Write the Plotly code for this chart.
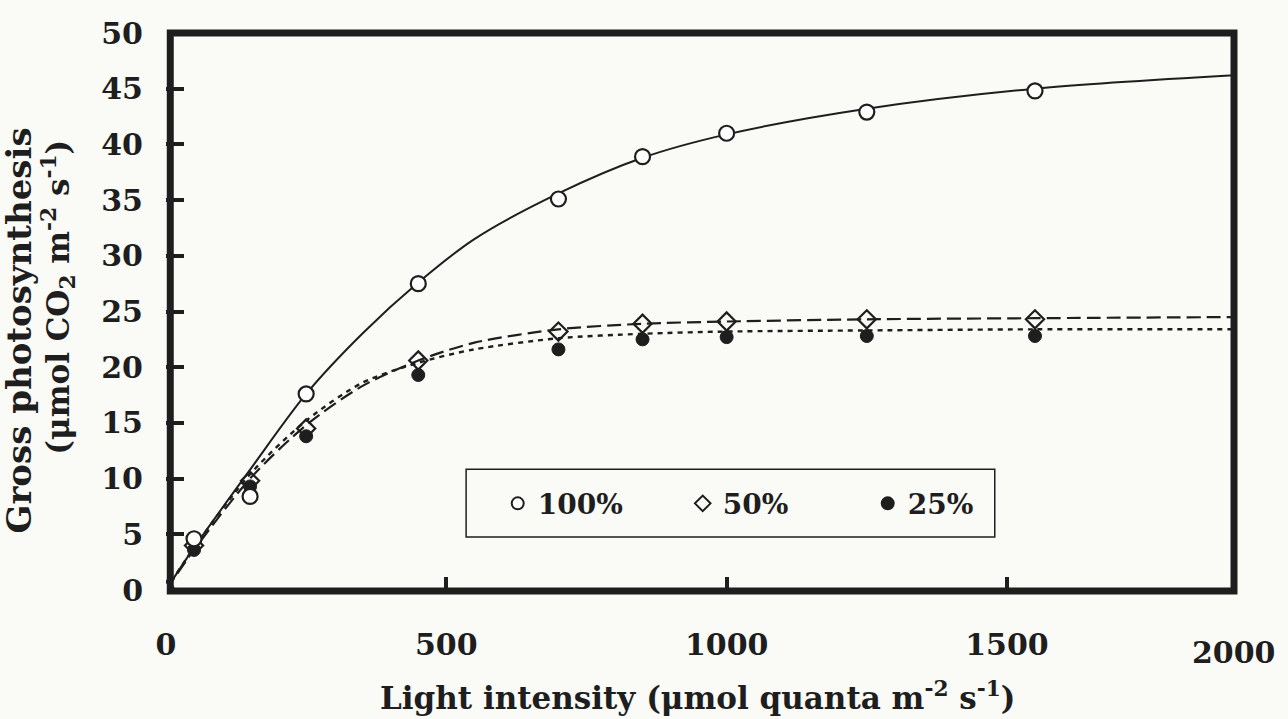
import plotly.graph_objects as go

# ---- data ----
light = [0, 50, 150, 250, 450, 700, 850, 1000, 1250, 1550]
gp_100 = [0, 4.6, 8.4, 17.6, 27.5, 35.1, 38.9, 41.0, 42.9, 44.8]
gp_50 = [0, 4.0, 9.8, 14.5, 20.6, 23.2, 23.9, 24.1, 24.3, 24.3]
gp_25 = [0, 3.6, 9.3, 13.8, 19.3, 21.6, 22.5, 22.7, 22.8, 22.8]

# fitted response curves
curve_x = [0, 50, 150, 250, 350, 450, 550, 700, 850, 1000, 1250, 1550, 1905]
fit_100 = [0, 3.8, 10.8, 17.6, 23.0, 27.6, 31.5, 35.6, 38.8, 40.9, 43.2, 45.0, 46.2]
fit_50 = [0, 3.6, 10.0, 14.8, 18.3, 20.6, 22.2, 23.4, 23.9, 24.1, 24.3, 24.4, 24.5]
fit_25 = [0, 3.8, 10.4, 15.2, 18.6, 20.4, 21.6, 22.6, 23.0, 23.2, 23.3, 23.4, 23.4]

series_names = ["100%", "50%", "25%"]
x_ticks = [0, 500, 1000, 1500]
x_tick_text = ["0", "500", "1000", "1500"]
x_end_label = "2000"
y_ticks = [0, 5, 10, 15, 20, 25, 30, 35, 40, 45, 50]

INK = "#1e1e1e"
BG = "#fafaf6"
FONT = "DejaVu Serif"

fig = go.Figure()

# curves
fig.add_trace(go.Scatter(x=curve_x, y=fit_100, mode="lines", showlegend=False,
                         line=dict(color=INK, width=2, shape="spline", smoothing=0.9),
                         hoverinfo="skip"))
fig.add_trace(go.Scatter(x=curve_x, y=fit_50, mode="lines", showlegend=False,
                         line=dict(color=INK, width=2.2, dash="14px,6px", shape="spline", smoothing=0.8),
                         hoverinfo="skip"))
fig.add_trace(go.Scatter(x=curve_x, y=fit_25, mode="lines", showlegend=False,
                         line=dict(color=INK, width=2.4, dash="5px,5px", shape="spline", smoothing=0.8),
                         hoverinfo="skip"))

# points
fig.add_trace(go.Scatter(x=light, y=gp_25, mode="markers", name=series_names[2],
                         marker=dict(symbol="circle", size=13, color=INK,
                                     line=dict(color=INK, width=1))))
fig.add_trace(go.Scatter(x=light, y=gp_50, mode="markers", name=series_names[1],
                         marker=dict(symbol="diamond-open", size=14, color=INK,
                                     line=dict(color=INK, width=2.2))))
fig.add_trace(go.Scatter(x=light, y=gp_100, mode="markers", name=series_names[0],
                         marker=dict(symbol="circle", size=15, color="white",
                                     line=dict(color=INK, width=2.2))))

L, R, T, B = 166, 54, 33, 129
W, H = 1288, 719

fig.update_layout(
    width=W, height=H,
    margin=dict(l=L, r=R, t=T, b=B),
    paper_bgcolor=BG, plot_bgcolor=BG,
    font=dict(family=FONT, color=INK),
    showlegend=True,
    legend=dict(orientation="h", x=0.3106, y=0.155, xanchor="left", yanchor="middle",
                bgcolor="rgba(0,0,0,0)", borderwidth=0,
                font=dict(family=FONT, size=28, color=INK, weight="bold"),
                entrywidth=140, entrywidthmode="pixels",
                traceorder="reversed", itemsizing="constant"),
    xaxis=dict(range=[0, 1905], tickvals=x_ticks, ticktext=x_tick_text,
               ticks="inside", ticklen=13, tickwidth=4, tickcolor=INK,
               showgrid=False, zeroline=False, showline=False,
               tickfont=dict(family=FONT, size=30, color=INK, weight="bold"),
               ticklabelstandoff=34),
    yaxis=dict(range=[0, 50], tickvals=y_ticks,
               ticks="inside", ticklen=18, tickwidth=4, tickcolor=INK,
               showgrid=False, zeroline=False, showline=False,
               tickfont=dict(family=FONT, size=30, color=INK, weight="bold"),
               ticklabelstandoff=22),
)

# frame and legend box
fig.add_shape(type="rect", xref="paper", yref="paper", x0=0.004, x1=1.0, y0=-0.002, y1=1.0,
              line=dict(color=INK, width=7), layer="above")
fig.add_shape(type="rect", xref="paper", yref="paper", x0=0.281, x1=0.776, y0=0.095, y1=0.217,
              line=dict(color=INK, width=1.5), layer="below")

# axis titles
fig.add_annotation(text="<b>Light intensity (μmol quanta m<sup>-2</sup> s<sup>-1</sup>)</b>",
                   xref="paper", yref="paper", x=0.498, y=-0.19, xanchor="center", yanchor="middle",
                   showarrow=False, font=dict(family=FONT, size=31, color=INK))
fig.add_annotation(text="<b>Gross photosynthesis</b>",
                   xref="paper", yref="paper", x=-0.138, y=0.465, xanchor="center", yanchor="middle",
                   textangle=-90, showarrow=False, font=dict(family=FONT, size=34, color=INK))
fig.add_annotation(text="<b>(μmol CO<sub>2</sub> m<sup>-2</sup> s<sup>-1</sup>)</b>",
                   xref="paper", yref="paper", x=-0.101, y=0.525, xanchor="center", yanchor="middle",
                   textangle=-90, showarrow=False, font=dict(family=FONT, size=31, color=INK))
# end-of-axis label
fig.add_annotation(text="<b>" + x_end_label + "</b>", xref="paper", yref="paper",
                   x=1.0, y=-0.112, xanchor="center", yanchor="middle",
                   showarrow=False, font=dict(family=FONT, size=30, color=INK))

fig.write_html("out.html", config={"displayModeBar": False},
               post_script="document.body.style.margin='0px';")
